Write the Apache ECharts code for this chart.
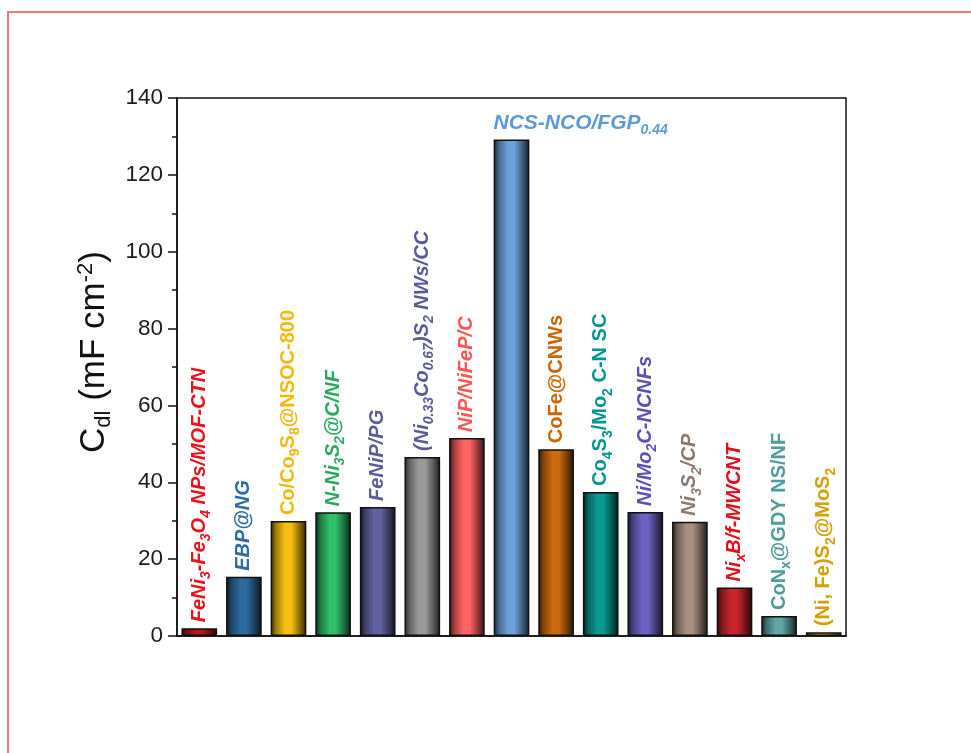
<!DOCTYPE html>
<html>
<head>
<meta charset="utf-8">
<script src="https://cdn.jsdelivr.net/npm/echarts@6/dist/echarts.min.js"></script>
<style>
  html, body { margin: 0; padding: 0; background: #fff; }
  #wrap { position: relative; width: 971px; height: 753px; overflow: hidden; }
  #chart { position: absolute; left: 0; top: 0; width: 971px; height: 753px; }
  #frame { position: absolute; left: 7px; top: 11px; right: -4px; bottom: -4px;
           border-left: 2px solid #ff7272; border-top: 2px solid #ff7272; pointer-events: none; }
</style>
</head>
<body>
<div id="wrap">
  <div id="chart"></div>
  <div id="frame"></div>
</div>
<script>
// Catalysts (plain names, used as categories)
const categories = [
  'FeNi3-Fe3O4 NPs/MOF-CTN', 'EBP@NG', 'Co/Co9S8@NSOC-800', 'N-Ni3S2@C/NF', 'FeNiP/PG',
  '(Ni0.33Co0.67)S2 NWs/CC', 'NiP/NiFeP/C', 'NCS-NCO/FGP0.44', 'CoFe@CNWs', 'Co4S3/Mo2 C-N SC',
  'Ni/Mo2C-NCNFs', 'Ni3S2/CP', 'NixB/f-MWCNT', 'CoNx@GDY NS/NF', '(Ni, Fe)S2@MoS2'
];

// Bar labels, _{...} marks a subscript
const labelMarkup = [
  'FeNi_{3}-Fe_{3}O_{4} NPs/MOF-CTN', 'EBP@NG', 'Co/Co_{9}S_{8}@NSOC-800', 'N-Ni_{3}S_{2}@C/NF', 'FeNiP/PG',
  '(Ni_{0.33}Co_{0.67})S_{2} NWs/CC', 'NiP/NiFeP/C', 'NCS-NCO/FGP_{0.44}', 'CoFe@CNWs', 'Co_{4}S_{3}/Mo_{2} C-N SC',
  'Ni/Mo_{2}C-NCNFs', 'Ni_{3}S_{2}/CP', 'Ni_{x}B/f-MWCNT', 'CoN_{x}@GDY NS/NF', '(Ni, Fe)S_{2}@MoS_{2}'
];

// Double-layer capacitance, mF cm^-2
const cdl = [2.0, 15.4, 29.9, 32.2, 33.6, 46.6, 51.5, 129.2, 48.6, 37.5, 32.3, 29.7, 12.6, 5.2, 1.0];

// Label slant per bar
const labelItalic = [true, true, false, true, true, true, true, true, false, false, true, true, true, false, false];

// Y axis ticks
const yTicks = [0, 20, 40, 60, 80, 100, 120, 140];

const barColors = ['#c0141a', '#2f6a9e', '#f7be10', '#2fbf6a', '#6262a0', '#9a9a9a', '#ff6262', '#6aa2dc',
  '#cc6a10', '#0a9a92', '#6d62c4', '#a89080', '#c8242c', '#62a6a6', '#e0a800'];
const labelColors = ['#e8141c', '#2f6aa6', '#f5b80a', '#2aaa5e', '#5c5c99', '#5a5a9a', '#ff5555', '#5b9bd5',
  '#cc6600', '#00968f', '#5a50b8', '#8a7a70', '#e0101c', '#4e9c9c', '#d4a000'];

const FONT = '"Liberation Sans", Arial, sans-serif';

function shade(hex, f) {
  const n = parseInt(hex.slice(1), 16);
  const r = Math.round(((n >> 16) & 255) * f), g = Math.round(((n >> 8) & 255) * f), b = Math.round((n & 255) * f);
  return 'rgb(' + r + ',' + g + ',' + b + ')';
}

function toRich(markup) {
  return markup.split(/(_\{[^}]*\})/).filter(p => p.length).map(p =>
    p.startsWith('_{') ? '{s|' + p.slice(2, -1) + '}' : '{n|' + p + '}').join('');
}

function richStyles(color, italic, size) {
  const fs = italic ? 'italic' : 'normal';
  return {
    n: { fontFamily: FONT, fontWeight: 'bold', fontStyle: fs, fontSize: size, color: color, lineHeight: 28, verticalAlign: 'middle' },
    s: { fontFamily: FONT, fontWeight: 'bold', fontStyle: fs, fontSize: Math.round(size * 0.68), color: color, lineHeight: 16, verticalAlign: 'bottom' }
  };
}

const TOP_INDEX = cdl.indexOf(Math.max(...cdl));

const seriesData = cdl.map((v, i) => {
  const c = barColors[i];
  const item = {
    value: v,
    itemStyle: {
      color: new echarts.graphic.LinearGradient(0, 0, 1, 0, [
        { offset: 0, color: shade(c, 0.22) },
        { offset: 0.15, color: shade(c, 0.65) },
        { offset: 0.4, color: c },
        { offset: 0.58, color: c },
        { offset: 0.85, color: shade(c, 0.5) },
        { offset: 1, color: shade(c, 0.18) }
      ]),
      borderColor: '#111',
      borderWidth: 1.5
    }
  };
  if (i === TOP_INDEX) {
    item.label = {
      show: true, position: 'top', rotate: 0, align: 'left', verticalAlign: 'bottom',
      distance: 2, offset: [-18, 0],
      formatter: toRich(labelMarkup[i]),
      rich: richStyles(labelColors[i], labelItalic[i], 21)
    };
  } else {
    item.label = {
      show: true, position: 'top', rotate: 90, align: 'left', verticalAlign: 'middle',
      distance: 6,
      formatter: toRich(labelMarkup[i]),
      rich: richStyles(labelColors[i], labelItalic[i], 20)
    };
  }
  return item;
});

const chart = echarts.init(document.getElementById('chart'), null, { renderer: 'canvas' });
chart.setOption({
  backgroundColor: 'transparent',
  animation: false,
  grid: {
    left: 177, right: 125, top: 98, bottom: 117,
    show: true, borderColor: '#111', borderWidth: 1.5, backgroundColor: 'transparent'
  },
  xAxis: {
    type: 'category',
    data: categories,
    axisLine: { show: true, lineStyle: { color: '#111', width: 1.5 } },
    axisTick: { show: false },
    axisLabel: { show: false },
    splitLine: { show: false }
  },
  yAxis: {
    type: 'value',
    min: yTicks[0], max: yTicks[yTicks.length - 1], interval: yTicks[1] - yTicks[0],
    name: '{a|C}{b|dl}{a| (mF cm}{c|-2}{a|)}',
    nameLocation: 'middle',
    nameRotate: 90,
    nameGap: 57,
    nameTextStyle: {
      padding: [0, 0, 0, 30],
      rich: {
        a: { fontFamily: FONT, fontSize: 35, color: '#111', lineHeight: 40, verticalAlign: 'middle' },
        b: { fontFamily: FONT, fontSize: 22, color: '#111', lineHeight: 22, verticalAlign: 'bottom' },
        c: { fontFamily: FONT, fontSize: 22, color: '#111', lineHeight: 22, verticalAlign: 'top' }
      }
    },
    axisLine: { show: true, lineStyle: { color: '#111', width: 1.5 } },
    axisTick: { show: true, inside: false, length: 9, lineStyle: { color: '#111', width: 1.5 } },
    minorTick: { show: true, splitNumber: 2, length: 5, lineStyle: { color: '#111', width: 1.5 } },
    axisLabel: { fontFamily: FONT, fontSize: 22.5, color: '#1a1a1a', margin: 14 },
    splitLine: { show: false }
  },
  series: [{
    type: 'bar',
    data: seriesData,
    barWidth: '80%'
  }]
});
</script>
</body>
</html>
